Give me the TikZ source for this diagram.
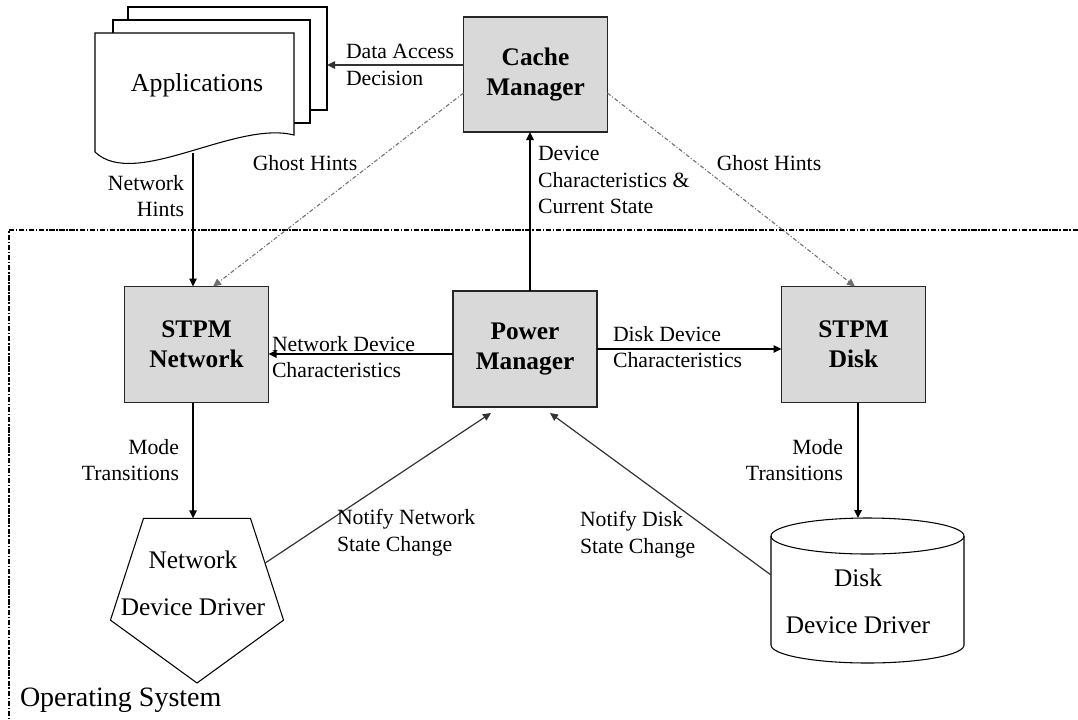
\documentclass[tikz,border=0pt]{standalone}
\usepackage{fontspec}
\setmainfont{Liberation Serif}
\usetikzlibrary{arrows.meta,shapes.geometric,calc}
\definecolor{boxgray}{HTML}{D9D9D9}
\definecolor{ghost}{HTML}{6E6E6E}
\definecolor{notify}{HTML}{333333}

\begin{document}
\begin{tikzpicture}[x=0.75pt,y=-0.75pt,
  every node/.style={inner sep=0pt, outer sep=0pt},
  lbl/.style={font=\fontsize{16.3}{20}\selectfont},
  bx/.style={draw=black!85, line width=1.1pt, fill=boxgray, minimum width=108pt,
    minimum height=87pt, align=center, font=\fontsize{19}{22.5}\selectfont\bfseries},
  flow/.style={-{Triangle[length=6pt,width=5.5pt]}, line width=1.4pt},
  ghostline/.style={-{Triangle[length=6pt,width=5.5pt]}, draw=ghost, line width=0.8pt,
    dash pattern=on 3pt off 1.5pt on 0.8pt off 1.5pt},
  notifyline/.style={-{Triangle[length=6pt,width=5.5pt]}, draw=notify, line width=0.9pt},
  page/.style={draw, line width=0.8pt, fill=white},
  shapetext/.style={font=\fontsize{19}{23}\selectfont, align=center},
]
\useasboundingbox (0,0) rectangle (1078,719);

% operating system boundary
\draw[line width=1.5pt, dash pattern=on 4pt off 1.2pt on 1.2pt off 1.2pt]
  (1078,230) -- (8.5,230) -- (8.5,719);
\node[anchor=west, font=\fontsize{21}{25}\selectfont] (os) at (20,700) {Operating System};

% stacked application pages
\node[page, minimum width=149.25pt, minimum height=77.25pt] (app3) at (227.5,58.5) {};
\node[page, minimum width=147.75pt, minimum height=77.25pt] (app2) at (211.5,71.5) {};
\draw[page] (95,33) -- (294,33) -- (294,135)
  .. controls (235,120) and (135,190) .. (95,152) -- cycle;
\node[font=\fontsize{19.4}{23}\selectfont] (apps) at (197,85) {Applications};
\coordinate (appbot) at (193,153);

% manager boxes
\node[bx, minimum height=86.25pt] (cache) at (535.5,74.5) {Cache\\Manager};
\node[bx] (stpmnet) at (196.5,344.5) {STPM\\Network};
\node[bx] (pm) at (525,349) {Power\\Manager};
\node[bx] (stpmdisk) at (853.5,344.5) {STPM\\Disk};

% network device driver
\node[draw, line width=0.8pt, regular polygon, regular polygon sides=5,
  shape border rotate=180, minimum size=136.5pt] (netdrv) at (197,592) {};
\node[shapetext] (netdrvtext) at (193,583.5) {Network\\[12pt]Device Driver};

% disk device driver
\draw[line width=0.8pt, fill=white] (771,536) -- (771,645)
  arc[start angle=180, end angle=360, x radius=72.375pt, y radius=13.5pt] -- (964,536);
\draw[line width=0.8pt] (867.5,536) ellipse [x radius=72.375pt, y radius=13.5pt];
\node[minimum width=144.75pt, minimum height=108.75pt] (diskdrv) at (867.5,590.5) {};
\node[shapetext] (diskdrvtext) at (858,601) {Disk\\[12pt]Device Driver};

% connectors
\coordinate (dalev) at (0,65);
\draw[flow, line width=1.1pt, draw=black!80] (cache.west |- dalev) -- (app3.east |- dalev);
\draw[flow, line width=1.5pt] (appbot) -- (appbot |- stpmnet.north);
\draw[ghostline] ([yshift=-13.9pt]cache.west) -- ([xshift=12.4pt]stpmnet.north);
\draw[ghostline] ([yshift=-13.9pt]cache.east) -- ([xshift=1.1pt]stpmdisk.north);
\coordinate (pmtop) at ([xshift=3.75pt]pm.north);
\draw[flow] (pmtop) -- (pmtop |- cache.south);
\coordinate (pmw) at ([yshift=-3.75pt]pm.west);
\draw[flow] (pmw) -- (pmw -| stpmnet.east);
\draw[flow] (pm.east) -- (pm.east -| stpmdisk.west);
\coordinate (netdown) at ([xshift=-2.6pt]stpmnet.south);
\draw[flow] (netdown) -- (netdown |- netdrv.north);
\coordinate (diskdown) at ([xshift=3.4pt]stpmdisk.south);
\draw[flow] (diskdown) -- (diskdown |- diskdrv.north);
\draw[notifyline] (netdrv.23) -- ([xshift=-25.5pt,yshift=-4.5pt]pm.south);
\coordinate (disklev) at (0,575);
\draw[notifyline] (diskdrv.west |- disklev) -- ([xshift=18.75pt,yshift=-4.5pt]pm.south);

% connector labels
\node[lbl, anchor=west, align=left] (dalbl) at (346,65) {Data Access\\Decision};
\node[lbl] (ghostl) at (305,163) {Ghost Hints};
\node[lbl] (ghostr) at (769,163) {Ghost Hints};
\node[lbl, anchor=east, align=right] (nhlbl) at (184,196) {Network\\Hints};
\node[lbl, anchor=west, align=left] (dclbl) at (538,180) {Device\\Characteristics \&\\Current State};
\node[lbl, anchor=west, align=left] (ndlbl) at (272,357) {Network Device\\Characteristics};
\node[lbl, anchor=west, align=left] (ddlbl) at (613,347) {Disk Device\\Characteristics};
\node[lbl, anchor=east, align=right] (mtl) at (179,460) {Mode\\Transitions};
\node[lbl, anchor=east, align=right] (mtr) at (843,460) {Mode\\Transitions};
\node[lbl, anchor=west, align=left] (nnlbl) at (337,533) {Notify Network\\State Change};
\node[lbl, anchor=west, align=left] (ndslbl) at (580,535) {Notify Disk\\State Change};
\end{tikzpicture}
\end{document}
